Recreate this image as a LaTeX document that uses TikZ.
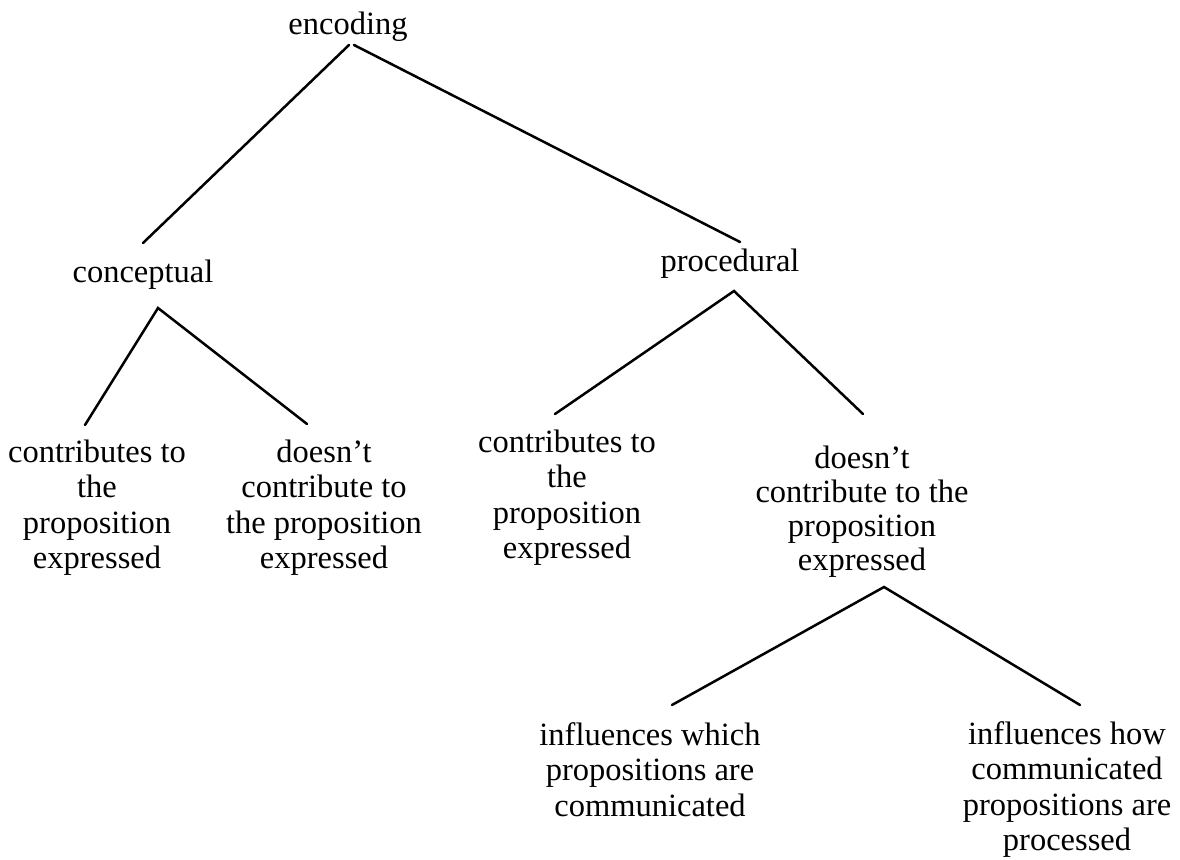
\documentclass[tikz,border=0pt]{standalone}
\usepackage{fontspec}
\setmainfont{Liberation Serif}
\newcommand\tlines[1]{\begin{tabular}[t]{@{}c@{}}#1\end{tabular}}
\begin{document}
\begin{tikzpicture}[x=1pt,y=-1pt,
  lbl/.style={anchor=base,inner sep=0pt,font=\fontsize{32.5}{35.5}\selectfont},
  edge/.style={line width=2.5pt,line cap=round}]
\useasboundingbox (0,0) rectangle (1180,859);
% nodes
\node[lbl] (enc) at (348,35) {encoding};
\node[lbl] (con) at (143,282) {conceptual};
\node[lbl] (pro) at (730,271) {procedural};
\node[lbl] (lc) at (97,462) {\tlines{contributes to\\the\\proposition\\expressed}};
\node[lbl] (ld) at (324,462) {\tlines{doesn’t\\contribute to\\the proposition\\expressed}};
\node[lbl] (mc) at (567,452) {\tlines{contributes to\\the\\proposition\\expressed}};
\node[lbl,font=\fontsize{32.5}{34}\selectfont] (rd) at (862,468) {\tlines{doesn’t\\contribute to the\\proposition\\expressed}};
\node[lbl] (bl) at (650,745) {\tlines{influences which\\propositions are\\communicated}};
\node[lbl] (br) at (1067,744) {\tlines{influences how\\communicated\\propositions are\\processed}};
% connector end points
\coordinate (encL) at (349,45);
\coordinate (encR) at (354,45);
\coordinate (conT) at (143,243);
\coordinate (proT) at (740,242);
\coordinate (conB) at (158,308);
\coordinate (lcT) at (85,425);
\coordinate (ldT) at (307,424);
\coordinate (proB) at (734,291);
\coordinate (mcT) at (555,414);
\coordinate (rdT) at (863,414);
\coordinate (rdB) at (884,587);
\coordinate (blT) at (672,705);
\coordinate (brT) at (1080,705);
% connectors
\draw[edge] (encL) -- (conT);
\draw[edge] (encR) -- (proT);
\draw[edge] (lcT) -- (conB) -- (ldT);
\draw[edge] (mcT) -- (proB) -- (rdT);
\draw[edge] (blT) -- (rdB) -- (brT);
\end{tikzpicture}
\end{document}
